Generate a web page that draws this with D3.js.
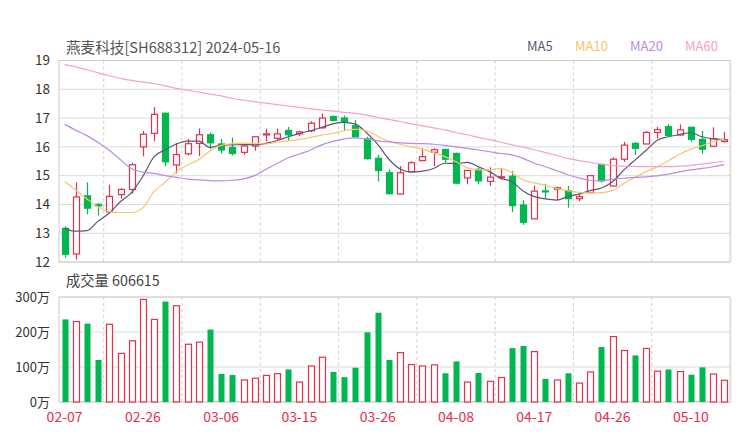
<!DOCTYPE html>
<html>
<head>
<meta charset="utf-8">
<script src="https://cdn.jsdelivr.net/npm/d3@7"></script>
<style>
  body { margin: 0; background: #fff; }
  svg { display: block; font-family: "Noto Sans CJK SC", "Noto Sans", sans-serif; }
</style>
</head>
<body>
<svg id="chart" width="740" height="440"></svg>
<script>
// trading days shown
const dates = ['02-07', '02-08', '02-19', '02-20', '02-21', '02-22', '02-23', '02-26', '02-27', '02-28',
  '02-29', '03-01', '03-04', '03-05', '03-06', '03-07', '03-08', '03-11', '03-12', '03-13',
  '03-14', '03-15', '03-18', '03-19', '03-20', '03-21', '03-22', '03-25', '03-26', '03-27',
  '03-28', '03-29', '04-01', '04-02', '04-03', '04-08', '04-09', '04-10', '04-11', '04-12',
  '04-15', '04-16', '04-17', '04-18', '04-19', '04-22', '04-23', '04-24', '04-25', '04-26',
  '04-29', '04-30', '05-06', '05-07', '05-08', '05-09', '05-10', '05-13', '05-14', '05-15']
const tickDates = ['02-07', '02-26', '03-06', '03-15', '03-26', '04-08', '04-17', '04-26', '05-10']

const open = [13.17, 12.28, 14.30, 14.00, 13.74, 14.34, 14.52, 16.00, 16.47, 17.17,
  15.37, 15.76, 16.12, 16.42, 16.10, 15.98, 15.81, 16.03, 16.42, 16.30,
  16.57, 16.45, 16.56, 16.66, 17.05, 17.00, 16.73, 16.28, 15.60, 15.10,
  14.36, 15.13, 15.52, 15.81, 15.91, 15.77, 14.92, 15.22, 14.80, 14.93,
  14.98, 13.98, 13.50, 14.47, 14.53, 14.48, 14.20, 14.41, 15.39, 14.64,
  15.57, 16.12, 16.10, 16.50, 16.70, 16.41, 16.68, 16.26, 16.02, 16.19]
const close = [12.27, 14.26, 13.87, 13.95, 14.28, 14.52, 15.38, 16.44, 17.13, 15.48,
  15.73, 16.11, 16.42, 16.14, 15.89, 15.77, 16.03, 16.35, 16.45, 16.45,
  16.42, 16.52, 16.82, 17.00, 16.92, 16.85, 16.35, 15.59, 15.18, 14.37,
  15.10, 15.45, 15.66, 15.90, 15.57, 14.74, 15.18, 14.82, 14.95, 14.96,
  13.96, 13.38, 14.46, 14.44, 14.58, 14.20, 14.27, 15.00, 14.82, 15.57,
  16.06, 15.95, 16.50, 16.60, 16.40, 16.59, 16.26, 15.92, 16.28, 16.25]
const high = [13.24, 14.76, 14.77, 14.04, 14.68, 14.56, 15.44, 16.55, 17.38, 17.18,
  16.13, 16.27, 16.64, 16.50, 16.28, 16.32, 16.05, 16.36, 16.63, 16.63,
  16.69, 16.56, 16.89, 17.16, 17.10, 17.09, 16.93, 16.35, 15.72, 15.22,
  15.33, 15.50, 15.95, 15.95, 15.92, 15.80, 15.19, 15.29, 15.29, 15.25,
  15.16, 14.15, 14.66, 14.72, 14.62, 14.64, 14.36, 15.02, 15.40, 15.64,
  16.17, 16.17, 16.55, 16.69, 16.79, 16.78, 16.69, 16.55, 16.68, 16.52]
const low = [12.15, 12.08, 13.66, 13.62, 13.72, 14.20, 14.37, 15.67, 16.20, 15.33,
  15.08, 15.70, 15.68, 15.92, 15.77, 15.70, 15.73, 15.87, 16.20, 16.24,
  16.21, 16.37, 16.51, 16.64, 16.88, 16.56, 16.32, 15.56, 14.80, 14.36,
  14.35, 15.12, 15.52, 15.33, 15.45, 14.70, 14.70, 14.70, 14.64, 14.86,
  13.73, 13.29, 13.49, 14.20, 14.15, 13.89, 14.11, 14.40, 14.76, 14.63,
  15.48, 15.72, 16.09, 16.29, 16.39, 16.40, 16.18, 15.76, 16.01, 16.14]

// volume, in millions of shares (百万)
const volume = [2.36, 2.30, 2.24, 1.20, 2.22, 1.39, 1.75, 2.93, 2.36, 2.87,
  2.75, 1.65, 1.71, 2.07, 0.80, 0.77, 0.63, 0.68, 0.76, 0.81,
  0.93, 0.57, 1.03, 1.28, 0.86, 0.71, 0.98, 1.99, 2.55, 1.20,
  1.41, 1.07, 1.03, 1.06, 0.82, 1.16, 0.57, 0.83, 0.59, 0.70,
  1.54, 1.60, 1.44, 0.66, 0.63, 0.82, 0.54, 0.86, 1.57, 1.87,
  1.47, 1.33, 1.53, 0.88, 0.93, 0.87, 0.78, 0.99, 0.80, 0.62]

const ma5 = [13.17, 13.07, 13.09, 13.42, 13.70, 14.10, 14.42, 14.98, 15.66, 15.90,
  16.10, 16.20, 16.20, 15.98, 16.06, 16.07, 16.08, 16.07, 16.12, 16.22,
  16.35, 16.47, 16.56, 16.68, 16.80, 16.85, 16.79, 16.49, 16.09, 15.57,
  15.23, 15.13, 15.16, 15.25, 15.43, 15.42, 15.46, 15.31, 15.14, 14.91,
  14.79, 14.47, 14.27, 14.19, 14.15, 14.27, 14.36, 14.48, 14.57, 14.79,
  15.19, 15.54, 15.88, 16.23, 16.35, 16.43, 16.49, 16.35, 16.28, 16.26]
const ma10 = [14.79, 14.50, 14.19, 13.92, 13.75, 13.72, 13.72, 13.88, 14.45, 14.77,
  15.14, 15.37, 15.56, 15.86, 16.05, 16.11, 16.13, 16.12, 16.10, 16.16,
  16.21, 16.26, 16.33, 16.41, 16.47, 16.56, 16.61, 16.56, 16.37, 16.19,
  16.09, 16.00, 15.91, 15.80, 15.66, 15.48, 15.27, 15.20, 15.20, 15.25,
  15.10, 14.85, 14.75, 14.66, 14.56, 14.48, 14.42, 14.40, 14.41, 14.48,
  14.73, 14.94, 15.14, 15.31, 15.52, 15.74, 15.92, 16.04, 16.18, 16.27]
const ma20 = [16.78, 16.58, 16.39, 16.15, 15.88, 15.55, 15.24, 15.12, 15.08, 15.00,
  14.94, 14.88, 14.85, 14.83, 14.82, 14.84, 14.89, 15.00, 15.22, 15.42,
  15.62, 15.75, 15.89, 16.07, 16.19, 16.28, 16.31, 16.27, 16.21, 16.17,
  16.14, 16.12, 16.11, 16.09, 16.05, 16.00, 15.95, 15.89, 15.83, 15.77,
  15.72, 15.60, 15.43, 15.31, 15.17, 15.03, 14.92, 14.84, 14.82, 14.88,
  14.91, 14.94, 14.96, 14.99, 15.05, 15.13, 15.20, 15.25, 15.31, 15.38]
const ma60 = [18.86, 18.78, 18.68, 18.57, 18.47, 18.38, 18.31, 18.25, 18.20, 18.12,
  18.03, 17.97, 17.90, 17.83, 17.77, 17.68, 17.62, 17.57, 17.52, 17.47,
  17.42, 17.37, 17.32, 17.28, 17.24, 17.20, 17.16, 17.10, 17.02, 16.95,
  16.88, 16.80, 16.73, 16.66, 16.59, 16.50, 16.42, 16.33, 16.25, 16.16,
  16.07, 15.99, 15.90, 15.80, 15.70, 15.60, 15.52, 15.46, 15.40, 15.35,
  15.33, 15.32, 15.31, 15.31, 15.31, 15.33, 15.36, 15.40, 15.45, 15.50]

const priceTicks = [12, 13, 14, 15, 16, 17, 18, 19]
const volumeTicks = [0, 1, 2, 3]

const maSeries = [
  { name: 'MA5', values: ma5, color: '#5c5677' },
  { name: 'MA10', values: ma10, color: '#f9c46d' },
  { name: 'MA20', values: ma20, color: '#bb8be3' },
  { name: 'MA60', values: ma60, color: '#f7a1c9' }
]

const UP = '#e5304c'
const DOWN = '#00b84f'

const svg = d3.select('#chart')
const left = 59
const right = 730

const x = d3.scaleBand().domain(d3.range(dates.length)).range([left, right])
  .paddingInner(0.45).paddingOuter(0.225)
const cx = (i) => x(i) + x.bandwidth() / 2
const step = x.step()

const y = d3.scaleLinear().domain([12, 19]).range([262, 60.5])
const yv = d3.scaleLinear().domain([0, 3]).range([402, 297])

/**
 * Draw the frame, the grid and the dashed separators of one panel
 */
function drawPanel (top, bottom, gridYs) {
  const g = svg.append('g')
  g.selectAll('.grid').data(gridYs).enter().append('line')
    .attr('x1', left).attr('x2', right)
    .attr('y1', d => d).attr('y2', d => d)
    .attr('stroke', '#dcdcdc')
  tickDates.slice(0, -1).forEach(function (d) {
    const xx = cx(dates.indexOf(d)) + step * 3.5
    g.append('line')
      .attr('x1', xx).attr('x2', xx).attr('y1', top).attr('y2', bottom)
      .attr('stroke', '#cfcfcf').attr('stroke-dasharray', '3,3')
  })
  g.append('rect')
    .attr('x', left).attr('y', top).attr('width', right - left).attr('height', bottom - top)
    .attr('fill', 'none').attr('stroke', '#cccccc')
  g.append('line')
    .attr('x1', right + 1).attr('x2', right + 1).attr('y1', top).attr('y2', bottom)
    .attr('stroke', '#e2e2e2')
}

drawPanel(y(19), y(12), priceTicks.map(y))
drawPanel(yv(3), yv(0), volumeTicks.map(yv))

// y axis labels
svg.append('g').selectAll('text').data(priceTicks).enter().append('text')
  .attr('x', 50).attr('y', d => y(d)).attr('dy', '0.35em')
  .attr('text-anchor', 'end').attr('font-size', 13.5).attr('fill', '#333')
  .text(d => d)
svg.append('g').selectAll('text').data(volumeTicks).enter().append('text')
  .attr('x', 50).attr('y', d => yv(d)).attr('dy', '0.35em')
  .attr('text-anchor', 'end').attr('font-size', 13).attr('fill', '#333')
  .text(d => (d * 100) + '万')

// date labels
svg.append('g').selectAll('text').data(tickDates).enter().append('text')
  .attr('x', d => cx(dates.indexOf(d))).attr('y', 417).attr('dy', '0.35em')
  .attr('text-anchor', 'middle').attr('font-size', 14).attr('fill', '#e5304c')
  .text(d => d)

// titles
svg.append('text').attr('x', 66).attr('y', 48).attr('dy', '0.35em')
  .attr('font-size', 14.6).attr('fill', '#555').text('燕麦科技[SH688312] 2024-05-16')
svg.append('text').attr('x', 66).attr('y', 281).attr('dy', '0.35em')
  .attr('font-size', 14.3).attr('fill', '#444').text('成交量 606615')

// legend
const legendX = [527, 575, 630, 685]
maSeries.forEach(function (s, k) {
  svg.append('text').attr('x', legendX[k]).attr('y', 46).attr('dy', '0.35em')
    .attr('font-size', 13).attr('fill', s.color).text(s.name)
})

const idx = d3.range(dates.length)
const isUp = (i) => close[i] >= open[i]

// candles
const candles = svg.append('g').selectAll('g').data(idx).enter().append('g')
candles.append('line')
  .attr('x1', i => Math.round(cx(i)) + 0.5).attr('x2', i => Math.round(cx(i)) + 0.5)
  .attr('y1', i => y(high[i])).attr('y2', i => y(low[i]))
  .attr('stroke', i => isUp(i) ? UP : DOWN).attr('stroke-width', 1.2)
candles.append('rect')
  .attr('x', i => Math.round(cx(i)) - 2.5)
  .attr('width', 6)
  .attr('y', i => y(Math.max(open[i], close[i])))
  .attr('height', i => Math.max(1, y(Math.min(open[i], close[i])) - y(Math.max(open[i], close[i]))))
  .attr('fill', i => isUp(i) ? '#fff' : DOWN)
  .attr('stroke', i => isUp(i) ? UP : DOWN)
  .attr('stroke-width', 1.2)

// moving averages
const line = d3.line().x((d, i) => cx(i)).y(d => y(d)).curve(d3.curveMonotoneX)
maSeries.forEach(function (s) {
  svg.append('path').datum(s.values)
    .attr('d', line).attr('fill', 'none')
    .attr('stroke', s.color).attr('stroke-width', 1.2)
})

// volume bars
svg.append('g').selectAll('rect').data(idx).enter().append('rect')
  .attr('x', i => Math.round(cx(i)) - 2.5)
  .attr('width', 6)
  .attr('y', i => yv(volume[i]))
  .attr('height', i => yv(0) - yv(volume[i]))
  .attr('fill', i => isUp(i) ? '#fff' : DOWN)
  .attr('stroke', i => isUp(i) ? UP : DOWN)
  .attr('stroke-width', i => isUp(i) ? 1.2 : 0)
</script>
</body>
</html>
